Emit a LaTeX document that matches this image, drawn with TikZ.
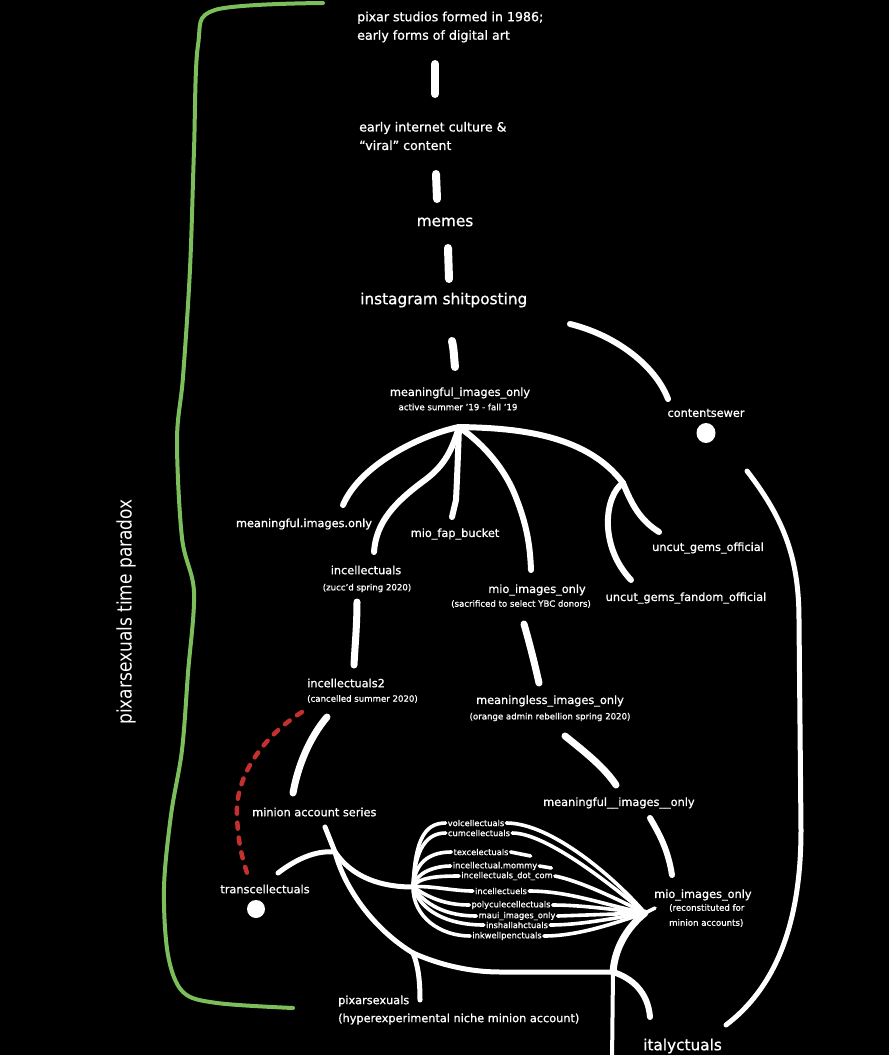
\documentclass[tikz,border=0pt]{standalone}
\usepackage{fontspec}
\setmainfont{DejaVu Sans}[FakeBold=0.9]
\newfontfamily\plainfont{DejaVu Sans}
\usetikzlibrary{positioning}
\definecolor{paradoxgreen}{RGB}{125,190,92}
\definecolor{cancelred}{RGB}{196,48,46}
\tikzset{
  toplbl/.style={text=white, align=left, inner sep=1pt, font=\fontsize{12.6}{18.5}\selectfont},
  big/.style={text=white, inner sep=1pt, font=\fontsize{15.3}{17}\selectfont},
  lbl/.style={text=white, inner sep=1pt, font=\fontsize{11.3}{13}\selectfont},
  sub/.style={text=white, align=left, inner sep=1pt, font=\fontsize{8.6}{15}\selectfont},
  fanlbl/.style={text=white, inner sep=2pt, font=\fontsize{8.3}{9}\selectfont},
  seg/.style={draw=white, line width=8pt, line cap=round},
  wire/.style={draw=white, line width=6pt, line cap=round, line join=round},
  fanwire/.style={draw=white, line width=3.6pt, line cap=round, line join=round},
  bracket/.style={draw=paradoxgreen, line width=4pt, line cap=round, line join=round},
  cancel/.style={draw=cancelred, line width=4.5pt, line cap=round, dash pattern=on 6pt off 9pt}
}

\begin{document}
\begin{tikzpicture}[x=1pt, y=-1pt]
  \fill[black] (0,0) rectangle (889,1055);
  \useasboundingbox (0,0) rectangle (889,1055);

  % timeline at the top
  \node[toplbl, anchor=west] (pixar) at (356,27) {pixar studios formed in 1986;\\early forms of digital art};
  \node[toplbl, anchor=west] (inet)  at (358,136) {early internet culture \&\\“viral” content};
  \node[big] (memes) at (445,222) {memes};
  \node[big, anchor=west] (insta) at (359,300) {instagram shitposting};
  \coordinate (s1a) at (435,64);  \coordinate (s1b) at (435,94);
  \coordinate (s2a) at (436,174); \coordinate (s2b) at (437,199);
  \coordinate (s3a) at (448,248); \coordinate (s3b) at (449,279);
  \coordinate (s4a) at (452,341); \coordinate (s4b) at (455,367);
  \draw[seg] (s1a) -- (s1b);
  \draw[seg] (s2a) -- (s2b);
  \draw[seg] (s3a) -- (s3b);
  \draw[seg] (s4a) .. controls (454,350) and (454,358) .. (s4b);

  % meaningful_images_only and its branches
  \node[lbl] (mio) at (460,393) {meaningful\_images\_only};
  \node[sub] (mios) at (458,407) {active summer '19 - fall '19};
  \node[lbl] (sewer) at (706,413) {contentsewer};
  \fill[white] (706,433) ellipse [x radius=9.5, y radius=10];
  \coordinate (hub) at (459,427);
  \coordinate (split) at (623,483);
  \coordinate (csa) at (570,324); \coordinate (csb) at (668,399);
  \draw[wire] (csa) .. controls (615,335) and (655,365) .. (csb);

  \node[lbl] (mdot)  at (304,524) {meaningful.images.only};
  \node[lbl] (fap)   at (455,534) {mio\_fap\_bucket};
  \node[lbl] (inc)   at (366,570) {incellectuals};
  \node[sub] (incs)  at (367,588) {(zucc'd spring 2020)};
  \node[lbl] (mio2)  at (537,590) {mio\_images\_only};
  \node[sub] (mio2s) at (521,604) {(sacrificed to select YBC donors)};
  \node[lbl] (gems)  at (708,548) {uncut\_gems\_official};
  \node[lbl] (fans)  at (686,598) {uncut\_gems\_fandom\_official};

  \draw[wire] (hub) .. controls (420,435) and (360,465) .. (343,505);
  \draw[wire] (hub) .. controls (452,450) and (445,465) .. (425,480) .. controls (395,502) and (376,522) .. (374,552);
  \draw[wire] (hub) .. controls (458,455) and (457,480) .. (456,500) -- (452,517);
  \draw[wire] (hub) .. controls (485,445) and (505,470) .. (515,495) .. controls (527,525) and (530,545) .. (531,570);
  \draw[wire] (hub) .. controls (510,428) and (585,432) .. (split);
  \draw[wire] (split) .. controls (632,505) and (640,520) .. (659,532);
  \draw[wire] (split) .. controls (605,495) and (598,545) .. (631,580);

  % right hand return line
  \coordinate (ra) at (747,471); \coordinate (rb) at (726,1025);
  \draw[wire, line width=5pt] (ra) .. controls (785,520) and (799,560) .. (799,620) -- (801,830) .. controls (801,930) and (772,990) .. (rb);

  % middle of the tree
  \node[lbl, anchor=west] (inc2)  at (306,683) {incellectuals2};
  \node[sub, anchor=west] (inc2s) at (306,699) {(cancelled summer 2020)};
  \node[lbl] (mless)  at (550,701) {meaningless\_images\_only};
  \node[sub] (mlesss) at (550,717) {(orange admin rebellion spring 2020)};
  \node[lbl, anchor=west] (minion) at (251,812) {minion account series};
  \node[lbl, anchor=west] (mio3)   at (542,803) {meaningful\_\_images\_\_only};
  \node[lbl] (trans) at (265,889) {transcellectuals};
  \fill[white] (256,909) ellipse [x radius=9, y radius=9];

  \draw[wire, line width=7pt] (357,602) .. controls (357,625) and (355,645) .. (354,665);
  \draw[wire, line width=7pt] (524,624) .. controls (530,645) and (535,665) .. (539,683);
  \draw[wire, line width=7pt] (327,717) .. controls (310,737) and (298,765) .. (293,793);
  \draw[wire, line width=7pt] (565,736) .. controls (585,752) and (605,768) .. (616,785);
  \draw[wire] (650,818) .. controls (660,835) and (668,850) .. (672,875);
  \draw[cancel] (302,712) .. controls (265,735) and (235,775) .. (237,815) .. controls (238,845) and (243,860) .. (247,873);

  % green bracket
  \draw[bracket] plot[smooth, tension=0.55] coordinates {(323,3) (215,10) (198,45) (194,150) (190,269) (183,377) (177,440) (182,538) (194,592) (188,673) (182,750) (171,815) (164,888) (168,955) (183,992) (217,1003) (293,1008)};
  \node[text=white, rotate=90] (paradox) at (126,612) {\scalebox{0.85}[1]{\plainfont\fontsize{20}{20}\selectfont pixarsexuals time paradox}};

  % minion account cluster
  \coordinate (jm) at (335,852);
  \coordinate (lh) at (413,887);
  \coordinate (jp) at (413,953);
  \coordinate (jb) at (613,972);
  \coordinate (rh) at (645,913);
  \coordinate (pxe) at (420,1000);
  \coordinate (itl) at (650,1017);
  \coordinate (btm) at (612,1062);
  \draw[wire, line width=5pt] (325,827) -- (jm);
  \draw[wire, line width=5pt] (278,873) .. controls (295,860) and (315,850) .. (jm);
  \draw[wire, line width=5pt] (jm) .. controls (352,877) and (380,887) .. (lh);
  \draw[wire, line width=5pt] (jm) .. controls (345,890) and (375,930) .. (jp);
  \draw[wire, line width=5pt] (jp) .. controls (418,965) and (420,980) .. (pxe);
  \draw[wire, line width=5pt] (jp) .. controls (440,965) and (470,972) .. (500,972) -- (jb);
  \draw[wire, line width=4pt] (jb) -- (btm);
  \draw[wire, line width=6pt] (jb) .. controls (632,978) and (648,992) .. (itl);
  \draw[wire, line width=7pt] (rh) .. controls (630,925) and (615,945) .. (jb);
  \draw[fanwire] (rh) -- (655,908);

  \node[fanlbl] (vol)  at (476,823) {volcellectuals};
  \node[fanlbl] (cum)  at (479,833) {cumcellectuals};
  \node[fanlbl] (tex)  at (481,852) {texcelectuals};
  \node[fanlbl] (mom)  at (495,866) {incellectual.mommy};
  \node[fanlbl] (dot)  at (507,876) {incellectuals\_dot\_com};
  \node[fanlbl] (incl) at (501,891) {incellectuels};
  \node[fanlbl] (poly) at (511,905) {polyculecellectuals};
  \node[fanlbl] (maui) at (517,916) {maui\_images\_only};
  \node[fanlbl] (insh) at (517,925) {inshallahctuals};
  \node[fanlbl] (ink)  at (507,936) {inkwellpenctuals};

  \draw[fanwire] (lh) .. controls +(2,-45) and +(-22,0) .. (vol.west);
  \draw[fanwire] (lh) .. controls +(2,-40) and +(-18,0) .. (cum.west);
  \draw[fanwire] (lh) .. controls +(2,-28) and +(-18,0) .. (tex.west);
  \draw[fanwire] (lh) .. controls +(3,-15) and +(-15,0) .. (mom.west);
  \draw[fanwire] (lh) .. controls +(5,-10) and +(-20,0) .. (dot.west);
  \draw[fanwire] (lh) .. controls +(15,-2) and +(-20,0) .. (incl.west);
  \draw[fanwire] (lh) .. controls +(15,10) and +(-25,0) .. (poly.west);
  \draw[fanwire] (lh) .. controls +(12,18) and +(-30,0) .. (maui.west);
  \draw[fanwire] (lh) .. controls +(8,25) and +(-35,0) .. (insh.west);
  \draw[fanwire] (lh) .. controls +(0,30) and +(-30,0) .. (ink.west);

  \draw[fanwire] (vol.east) .. controls +(45,0) and +(-30,-35) .. (rh);
  \draw[fanwire] (cum.east) .. controls +(35,0) and +(-30,-25) .. (rh);
  \draw[fanwire] (tex.east) -- ++(20,4);
  \draw[fanwire] (mom.east) -- ++(12,2);
  \draw[fanwire] (dot.east) .. controls +(25,5) and +(-30,-15) .. (rh);
  \draw[fanwire] (incl.east) .. controls +(40,0) and +(-40,-8) .. (rh);
  \draw[fanwire] (poly.east) .. controls +(30,0) and +(-30,-3) .. (rh);
  \draw[fanwire] (maui.east) -- (rh);
  \draw[fanwire] (insh.east) .. controls +(30,0) and +(-30,5) .. (rh);
  \draw[fanwire] (ink.east) .. controls +(35,0) and +(-30,10) .. (rh);

  % bottom labels
  \node[lbl, anchor=west] (mio4)  at (653,895) {mio\_images\_only};
  \node[sub, anchor=north west] (mio4s) at (668,903) {(reconstituted for\\minion accounts)};
  \node[lbl, anchor=west] (pxs)   at (337,1001) {pixarsexuals};
  \node[lbl, anchor=west] (pxss)  at (337,1019) {(hyperexperimental niche minion account)};
  \node[big, anchor=west] (italy) at (642,1046) {italyctuals};
\end{tikzpicture}
\end{document}
